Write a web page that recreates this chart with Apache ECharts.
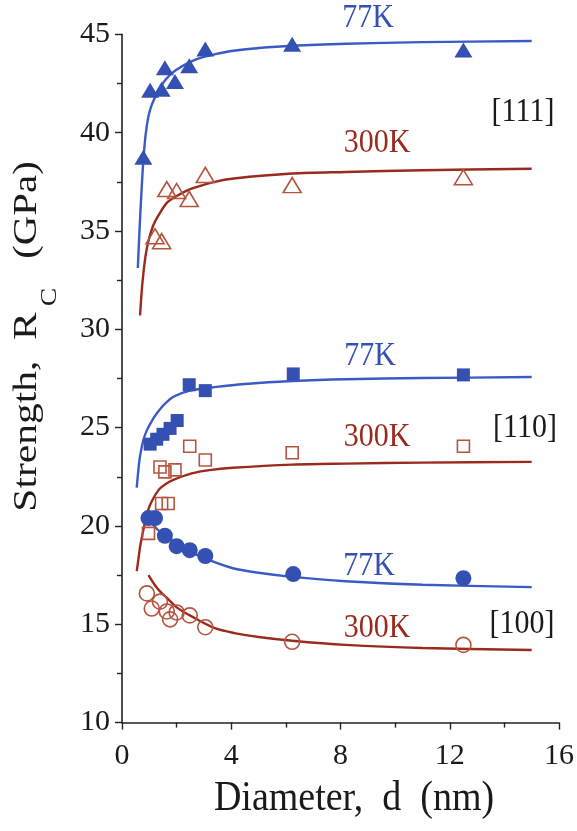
<!DOCTYPE html>
<html>
<head>
<meta charset="utf-8">
<script src="https://cdn.jsdelivr.net/npm/echarts@6/dist/echarts.min.js"></script>
<style>
html,body{margin:0;padding:0;background:#fff;}
#chart{width:577px;height:831px;}
</style>
</head>
<body>
<div id="chart"></div>
<script>
// ---- data ----
// [111]
const tri77X = [0.78, 1.03, 1.45, 1.57, 1.94, 2.46, 3.05, 6.23, 12.5];
const tri77Y = [38.75, 42.15, 42.2, 43.3, 42.6, 43.4, 44.25, 44.5, 44.2];
const tri300X = [1.21, 1.45, 1.64, 2.0, 2.46, 3.05, 6.23, 12.5];
const tri300Y = [34.73, 34.48, 37.13, 37.03, 36.63, 37.85, 37.33, 37.73];
const fit111_77 = [[0.58,33.12],[0.64,35.0],[0.7,36.65],[0.78,38.55],[0.87,39.95],[0.97,40.85],[1.1,41.45],[1.3,42.05],[1.6,42.7],[1.94,43.15],[2.5,43.6],[3.0,43.85],[4.0,44.15],[5.0,44.3],[6.23,44.42],[8.2,44.52],[11,44.6],[15,44.66]];
const fit111_300 = [[0.66,30.7],[0.72,31.9],[0.78,32.8],[0.87,33.8],[0.97,34.5],[1.15,35.3],[1.33,35.78],[1.64,36.43],[1.94,36.73],[2.5,37.13],[3.4,37.5],[4.1,37.67],[6.23,37.92],[8.2,38.0],[11,38.09],[15,38.16]];
// [110]
const sq77X = [1.03, 1.27, 1.5, 1.76, 2.02, 2.46, 3.05, 6.27, 12.5];
const sq77Y = [24.16, 24.41, 24.66, 24.96, 25.36, 27.18, 26.88, 27.73, 27.68];
const sq300X = [0.97, 1.45, 1.69, 1.39, 1.57, 1.94, 2.48, 3.05, 6.23, 12.5];
const sq300Y = [19.62, 21.14, 21.14, 23.0, 22.75, 22.85, 24.05, 23.35, 23.72, 24.05];
const fit110_77 = [[0.54,21.95],[0.6,22.85],[0.66,23.55],[0.78,24.36],[0.91,24.86],[1.1,25.36],[1.27,25.72],[1.5,26.11],[1.88,26.57],[2.46,26.87],[3.46,27.07],[4.5,27.22],[6.27,27.37],[8.2,27.46],[11,27.52],[15,27.57]];
const fit110_300 = [[0.54,17.7],[0.6,18.3],[0.66,18.92],[0.78,19.78],[0.9,20.53],[1.03,21.08],[1.33,21.81],[1.6,22.13],[1.88,22.34],[2.55,22.67],[3.2,22.84],[4.06,22.96],[6.23,23.12],[8.2,23.17],[11,23.22],[15,23.26]];
// [100]
const circ77X = [0.97, 1.21, 1.57, 2.0, 2.48, 3.05, 6.27, 12.5];
const circ77Y = [20.4, 20.4, 19.5, 18.97, 18.77, 18.47, 17.55, 17.34];
const circ300X = [0.91, 1.09, 1.39, 1.64, 1.76, 2.0, 2.48, 3.05, 6.23, 12.5];
const circ300Y = [16.57, 15.8, 16.15, 15.65, 15.25, 15.6, 15.45, 14.85, 14.11, 13.95];
const fit100_77 = [[1.0,20.32],[1.3,19.82],[1.64,19.45],[2.0,19.12],[2.61,18.62],[3.27,18.22],[4.06,17.85],[5,17.62],[6.23,17.41],[8.19,17.19],[11,17.01],[15,16.89]];
const fit100_300 = [[0.97,17.5],[1.2,17.0],[1.4,16.66],[1.69,16.28],[2.0,15.86],[2.55,15.4],[3.4,14.8],[4.12,14.55],[5,14.35],[6.23,14.16],[8.19,13.95],[11,13.79],[15,13.69]];

const xTicks = [0, 4, 8, 12, 16];
const yTicks = [10, 15, 20, 25, 30, 35, 40, 45];

// ---- styles ----
const BLUE = '#3450b2';
const BLUE_LINE = '#3a5bc6';
const RED = '#9a2a1e';
const RED_OPEN = '#b5553f';
const FONT = '"Liberation Serif", "Times New Roman", serif';

function pairs(xs, ys) { return xs.map((x, i) => [x, ys[i]]); }

function fitLine(data, color) {
  return {
    type: 'line', data: data, smooth: 0.3,
    showSymbol: false, symbol: 'none', silent: true,
    lineStyle: { color: color, width: 2.4 }, z: 2
  };
}
function filled(xs, ys, symbol, size) {
  return {
    type: 'scatter', data: pairs(xs, ys), symbol: symbol, symbolSize: size,
    itemStyle: { color: BLUE, opacity: 1 }, z: 3
  };
}
function open(xs, ys, symbol, size) {
  return {
    type: 'scatter', data: pairs(xs, ys), symbol: symbol, symbolSize: size,
    itemStyle: { color: 'rgba(255,255,255,0)', borderColor: RED_OPEN, borderWidth: 1.6, opacity: 1 }, z: 3
  };
}
function label(text, x, y, color, size) {
  return {
    type: 'text', x: x, y: y, scaleY: 1.15, z: 10,
    style: { text: text, fill: color, fontSize: size || 30, fontFamily: FONT, align: 'center', verticalAlign: 'middle' }
  };
}

const chart = echarts.init(document.getElementById('chart'), null, { renderer: 'canvas' });
chart.setOption({
  animation: false,
  backgroundColor: '#ffffff',
  grid: { left: 122, right: 16, top: 34.3, bottom: 108.4, containLabel: false },
  xAxis: {
    type: 'value', min: xTicks[0], max: xTicks[xTicks.length - 1], interval: 4,
    axisLine: { show: true, onZero: false, lineStyle: { color: '#222', width: 1.6 } },
    axisTick: { show: true, length: 7, lineStyle: { color: '#222', width: 1.4 } },
    minorTick: { show: true, splitNumber: 2, length: 5, lineStyle: { color: '#222', width: 1.4 } },
    splitLine: { show: false },
    axisLabel: { color: '#1a1a1a', fontSize: 30, fontFamily: FONT, margin: 19 }
  },
  yAxis: {
    type: 'value', min: yTicks[0], max: yTicks[yTicks.length - 1], interval: 5,
    axisLine: { show: true, lineStyle: { color: '#222', width: 1.6 } },
    axisTick: { show: true, length: 7, lineStyle: { color: '#222', width: 1.4 } },
    minorTick: { show: true, splitNumber: 2, length: 5, lineStyle: { color: '#222', width: 1.4 } },
    splitLine: { show: false },
    axisLabel: { color: '#1a1a1a', fontSize: 30, fontFamily: FONT, margin: 12 }
  },
  graphic: [
    { type: 'text', x: 354, y: 799, scaleY: 1.1, style: { text: 'Diameter,  d  (nm)', fill: '#1a1a1a', fontSize: 38, fontFamily: FONT, align: 'center', verticalAlign: 'middle' } },
    { type: 'text', x: 27, y: 412, rotation: Math.PI / 2, scaleX: 1.22, style: { text: 'Strength,  R', fill: '#1a1a1a', fontSize: 34, fontFamily: FONT, align: 'center', verticalAlign: 'middle' } },
    { type: 'text', x: 50, y: 297, rotation: Math.PI / 2, scaleX: 1.15, style: { text: 'C', fill: '#1a1a1a', fontSize: 24, fontFamily: FONT, align: 'center', verticalAlign: 'middle' } },
    { type: 'text', x: 27, y: 210, rotation: Math.PI / 2, scaleX: 1.2, style: { text: '(GPa)', fill: '#1a1a1a', fontSize: 34, fontFamily: FONT, align: 'center', verticalAlign: 'middle' } },
    label('77K', 368, 18, BLUE),
    label('300K', 377, 143, RED),
    label('[111]', 523, 112, '#1a1a1a'),
    label('77K', 370, 356, BLUE),
    label('300K', 377, 437, RED),
    label('[110]', 525, 428, '#1a1a1a'),
    label('77K', 369, 566, BLUE),
    label('300K', 377, 628, RED),
    label('[100]', 522, 624, '#1a1a1a')
  ],
  series: [
    fitLine(fit111_77, BLUE_LINE),
    fitLine(fit111_300, RED),
    fitLine(fit110_77, BLUE_LINE),
    fitLine(fit110_300, RED),
    fitLine(fit100_77, BLUE_LINE),
    fitLine(fit100_300, RED),
    filled(tri77X, tri77Y, 'triangle', [18, 15]),
    open(tri300X, tri300Y, 'triangle', [18, 15]),
    filled(sq77X, sq77Y, 'rect', 13),
    open(sq300X, sq300Y, 'rect', 12),
    filled(circ77X, circ77Y, 'circle', 16),
    open(circ300X, circ300Y, 'circle', 15)
  ]
});
</script>
</body>
</html>
